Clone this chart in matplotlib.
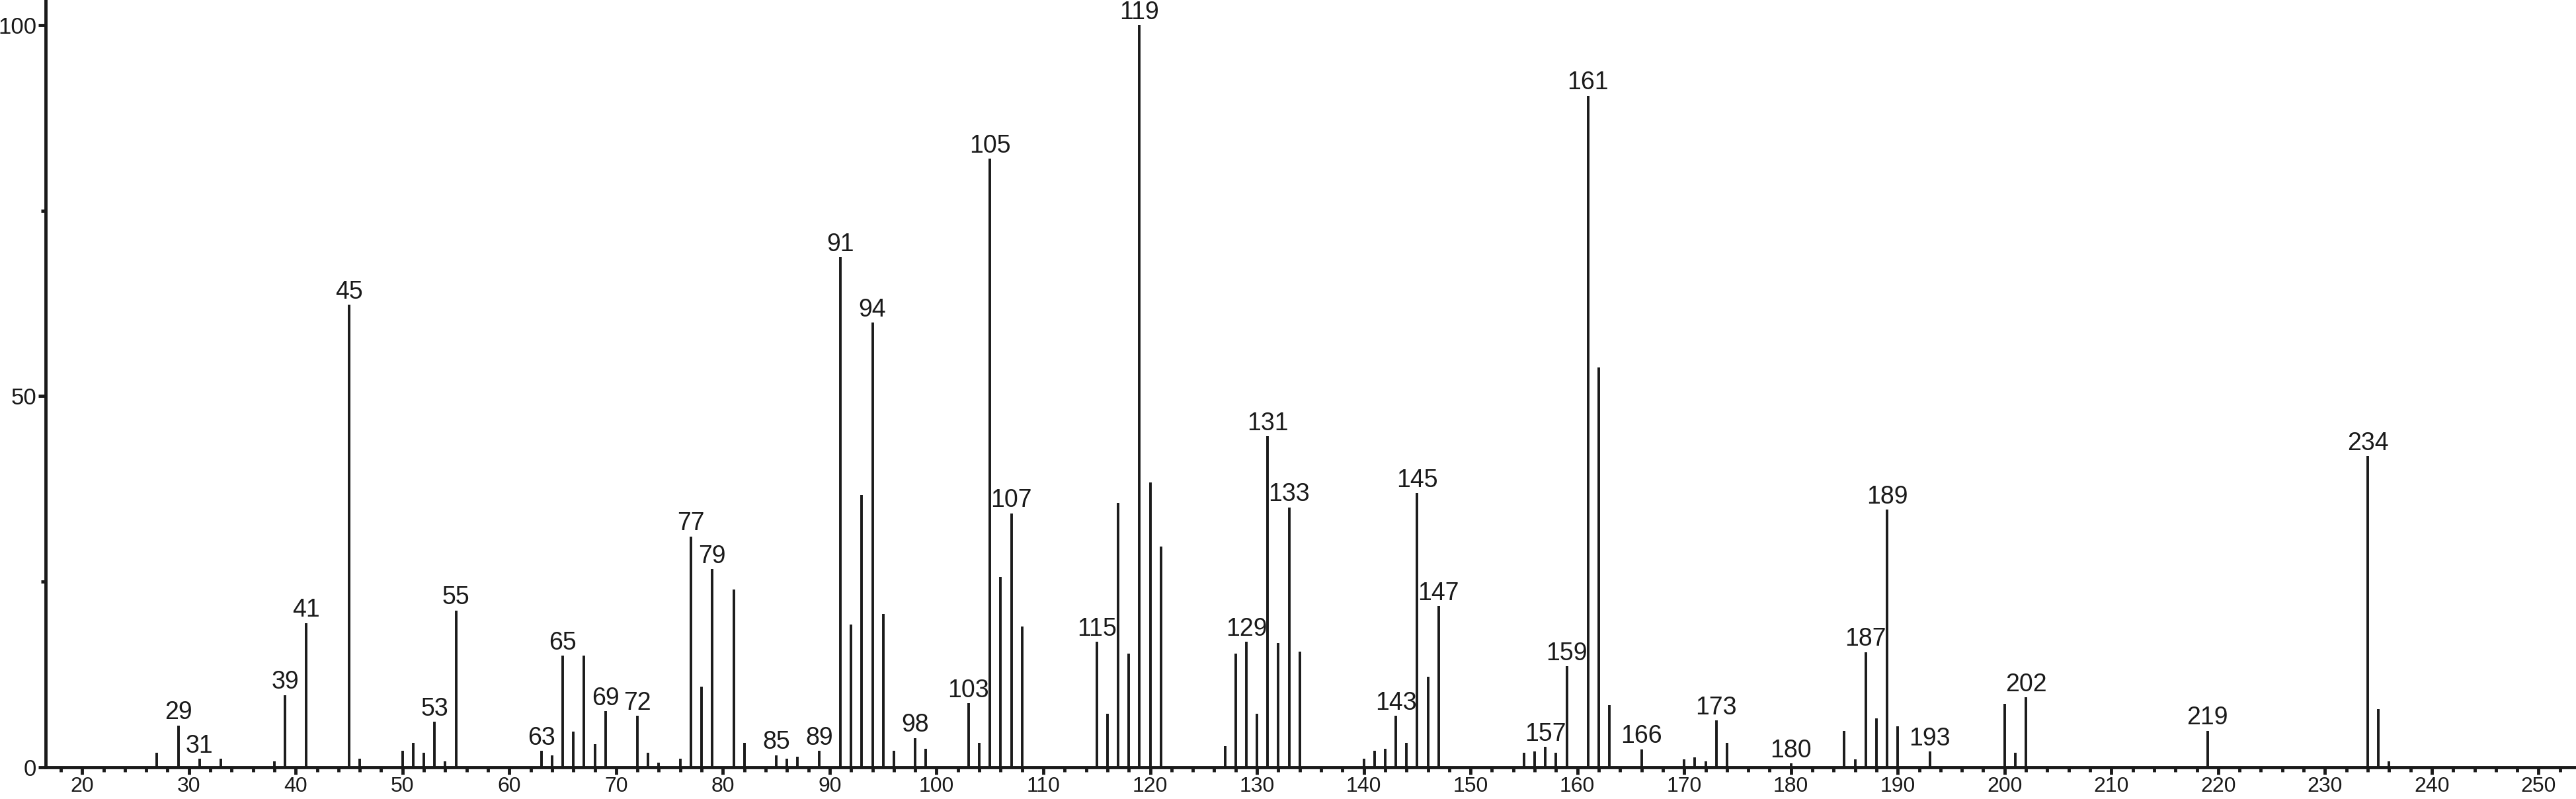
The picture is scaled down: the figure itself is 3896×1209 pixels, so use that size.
import matplotlib
matplotlib.use("Agg")
import matplotlib.pyplot as plt
from matplotlib.ticker import MultipleLocator

mz = [27, 29, 31, 33, 38, 39, 41, 45, 46, 50, 51, 52, 53, 54, 55,
      63, 64, 65, 66, 67, 68, 69, 72, 73, 74, 76, 77, 78, 79, 81, 82,
      85, 86, 87, 89, 91, 92, 93, 94, 95, 96, 98, 99,
      103, 104, 105, 106, 107, 108, 115, 116, 117, 118, 119, 120, 121,
      127, 128, 129, 130, 131, 132, 133, 134,
      140, 141, 142, 143, 144, 145, 146, 147,
      155, 156, 157, 158, 159, 161, 162, 163, 166,
      170, 171, 172, 173, 174, 180, 185, 186, 187, 188, 189, 190, 193,
      200, 201, 202, 219, 234, 235, 236]
intensity = [1.9, 5.6, 1.1, 1.1, 0.8, 9.7, 19.4, 62.3, 1.1, 2.2, 3.3, 1.9, 6.1, 0.8, 21.1,
             2.2, 1.6, 15.0, 4.8, 15.0, 3.1, 7.5, 6.9, 1.9, 0.6, 1.1, 31.1, 10.8, 26.7, 23.9, 3.3,
             1.6, 1.1, 1.4, 2.2, 68.7, 19.2, 36.7, 59.9, 20.6, 2.2, 3.9, 2.5,
             8.6, 3.3, 82.0, 25.6, 34.2, 18.9, 16.9, 7.2, 35.6, 15.3, 100.0, 38.4, 29.7,
             2.8, 15.3, 16.9, 7.2, 44.6, 16.7, 35.0, 15.6,
             1.1, 2.2, 2.5, 6.9, 3.3, 36.9, 12.2, 21.7,
             1.9, 2.1, 2.7, 1.9, 13.6, 90.5, 53.9, 8.3, 2.4,
             1.0, 1.3, 0.8, 6.3, 3.3, 0.5, 4.9, 1.0, 15.5, 6.6, 34.7, 5.5, 2.1,
             8.5, 1.9, 9.4, 4.9, 41.9, 7.8, 0.8]
labeled = [29, 31, 39, 41, 45, 53, 55, 63, 65, 69, 72, 77, 79, 85, 89, 91, 94, 98,
           103, 105, 107, 115, 119, 129, 131, 133, 143, 145, 147, 157, 159, 161,
           166, 173, 180, 187, 189, 193, 202, 219, 234]

ink = "#1a1a1a"
font = ["Liberation Sans Narrow", "Liberation Sans", "DejaVu Sans"]
plt.rcParams["font.family"] = font

fig = plt.figure(figsize=(38.96, 12.09), dpi=100)
ax = fig.add_axes([0.0177, 0.04, 0.9823, 0.96])

ax.vlines(mz, 0, intensity, colors=ink, linewidth=2.8, capstyle="butt")
lookup = dict(zip(mz, intensity))
for m in labeled:
    ax.annotate(str(m), (m, lookup[m]), xytext=(0, 1), textcoords="offset points",
                ha="center", va="bottom", fontsize=27, color=ink)

ax.set_xlim(16.58, 253.5)
ax.set_ylim(0, 103.4)
ax.spines["top"].set_visible(False)
ax.spines["right"].set_visible(False)
for s in ("left", "bottom"):
    ax.spines[s].set_linewidth(3.5)
    ax.spines[s].set_color(ink)

ax.xaxis.set_major_locator(MultipleLocator(10))
ax.xaxis.set_minor_locator(MultipleLocator(2))
ax.yaxis.set_major_locator(MultipleLocator(50))
ax.yaxis.set_minor_locator(MultipleLocator(25))
ax.tick_params(axis="both", which="major", length=8, width=3.5, colors=ink,
               labelsize=23, pad=2)
ax.tick_params(axis="both", which="minor", length=5, width=3.5, colors=ink)
ax.tick_params(axis="y", which="major", labelsize=25)

fig.savefig("out.png", dpi=100)
